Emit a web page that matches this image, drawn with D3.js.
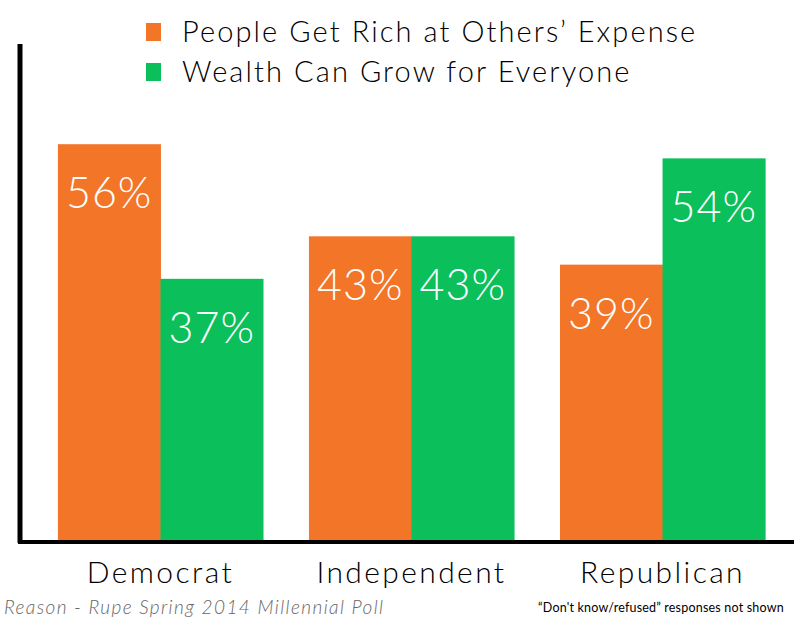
<!DOCTYPE html>
<html>
<head>
<meta charset="utf-8">
<script src="https://cdn.jsdelivr.net/npm/d3@7"></script>
<style>
  body { margin: 0; background: #fff; }
  svg { display: block; font-family: "Lato", "Open Sans", sans-serif; }
</style>
</head>
<body>
<div id="chart"></div>
<script>
// Chart data
var parties = ["Democrat", "Independent", "Republican"];
var seriesNames = ["People Get Rich at Others\u2019 Expense", "Wealth Can Grow for Everyone"];
var richAtOthers = [56, 43, 39];
var wealthGrows = [37, 43, 54];
var colors = ["#F37528", "#0BBF5B"];

var w = 794;
var h = 619;

var svg = d3.select("#chart")
            .append("svg")
            .attr("width", w)
            .attr("height", h);

// Scales
var xScale = d3.scaleBand()
               .domain(parties)
               .range([22, 801])
               .paddingInner(0.183)
               .paddingOuter(0.143);

var xInner = d3.scaleBand()
               .domain([0, 1])
               .range([0, xScale.bandwidth()]);

var yScale = d3.scaleLinear()
               .domain([0, 70])
               .range([541, 45]);

var data = parties.map(function(p, i) {
    return { party: p, values: [richAtOthers[i], wealthGrows[i]] };
});

// Bars
var groups = svg.selectAll(".group")
                .data(data)
                .enter().append("g")
                .attr("transform", d => `translate(${xScale(d.party)},0)`);

groups.selectAll("rect")
      .data(d => d.values)
      .enter().append("rect")
      .attr("x", (d, i) => xInner(i))
      .attr("y", d => yScale(d))
      .attr("width", xInner.bandwidth() + 0.5)
      .attr("height", d => yScale(0) - yScale(d))
      .attr("fill", (d, i) => colors[i]);

// Value labels inside bars
groups.selectAll(".val")
      .data(d => d.values)
      .enter().append("text")
      .attr("x", (d, i) => xInner(i) + xInner.bandwidth() / 2)
      .attr("y", d => yScale(d) + 64)
      .attr("text-anchor", "middle")
      .attr("fill", "#fff")
      .attr("font-size", 43)
      .attr("font-weight", 300)
      .attr("letter-spacing", 1)
      .text(d => d + "%");

// Axes (plain thick lines, no ticks)
svg.append("line")
   .attr("x1", 20).attr("x2", 20)
   .attr("y1", 44).attr("y2", 543)
   .attr("stroke", "#000").attr("stroke-width", 5);

svg.append("line")
   .attr("x1", 18).attr("x2", 794)
   .attr("y1", 542).attr("y2", 542)
   .attr("stroke", "#000").attr("stroke-width", 4);

// Category labels
svg.selectAll(".cat")
   .data(parties)
   .enter().append("text")
   .attr("x", d => xScale(d) + xScale.bandwidth() / 2)
   .attr("y", 583)
   .attr("text-anchor", "middle")
   .attr("font-size", 30)
   .attr("font-weight", 300)
   .attr("letter-spacing", 2.4)
   .attr("fill", "#000")
   .text(d => d);

// Legend
var legend = svg.selectAll(".legend")
                .data(seriesNames)
                .enter().append("g")
                .attr("transform", (d, i) => `translate(146, ${23 + i * 40})`);

legend.append("rect")
      .attr("width", 15)
      .attr("height", 18)
      .attr("fill", (d, i) => colors[i]);

legend.append("text")
      .attr("x", 36)
      .attr("y", 19)
      .attr("font-size", 29)
      .attr("font-weight", 300)
      .attr("letter-spacing", 2.1)
      .attr("fill", "#000")
      .text(d => d);

// Footnotes
svg.append("text")
   .attr("x", 4)
   .attr("y", 614)
   .attr("font-size", 19)
   .attr("font-style", "italic")
   .attr("font-weight", 300)
   .attr("letter-spacing", 1.4)
   .attr("fill", "#666")
   .text("Reason - Rupe Spring 2014 Millennial Poll");

svg.append("text")
   .attr("x", 538)
   .attr("y", 612)
   .attr("font-size", 12.5)
   .attr("letter-spacing", 0.2)
   .attr("fill", "#000")
   .text("\u201CDon't know/refused\u201D responses not shown");
</script>
</body>
</html>
